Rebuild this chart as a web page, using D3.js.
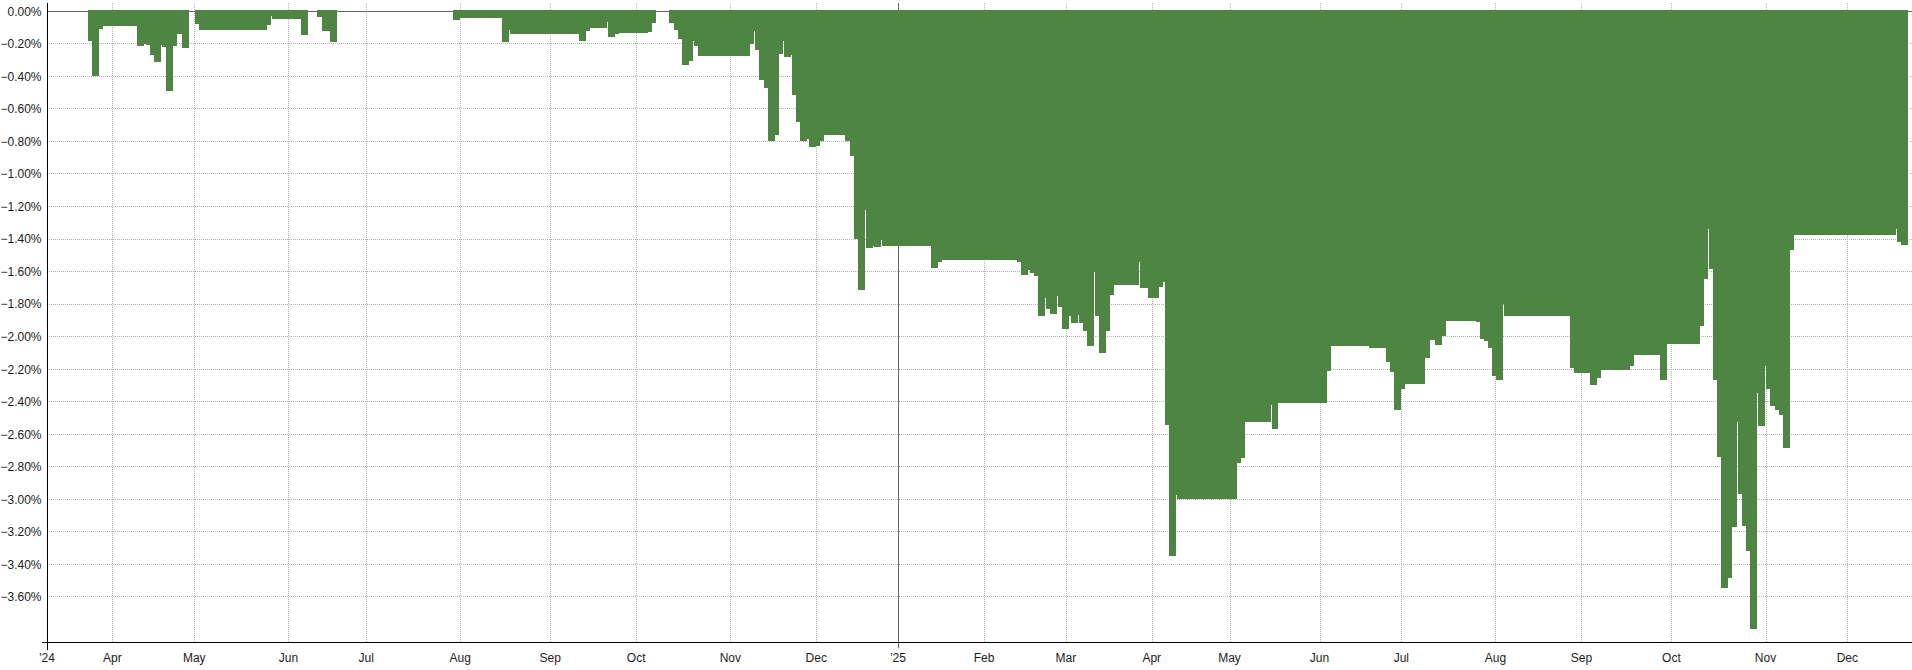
<!DOCTYPE html>
<html>
<head>
<meta charset="utf-8">
<script src="https://cdn.jsdelivr.net/npm/d3@7/dist/d3.min.js"></script>
<style>
  html, body { margin: 0; padding: 0; background: #ffffff; }
  svg { display: block; }
  text { font-family: "Liberation Sans", Arial, sans-serif; font-size: 12px; fill: #1c1c1c; }
</style>
</head>
<body>
<svg id="chart" width="1912" height="670"></svg>
<script>
// ---- DATA ----
// Drawdown (%) as a step series on a trading-session axis (x = sessions since the first session shown).
const stepStart = [
  0, 10.02, 11.00, 12.71, 13.62, 21.88, 23.71, 24.20, 25.18, 26.16, 27.87, 28.11, 29.09, 30.80, 31.78, 33.00,
  34.71, 36.18, 37.15, 53.70, 54.68, 55.07, 62.09, 63.80, 66.00, 67.22, 69.18, 70.89,
  99.24, 100.95, 111.22, 112.93, 113.18, 130.04, 131.75, 132.73, 136.89, 137.13, 138.84, 139.82, 146.91, 147.89, 148.86,
  152.04, 153.26, 154.24, 155.22, 156.93, 157.91, 158.15, 159.13, 171.84, 172.82, 173.06, 174.04, 175.26, 176.24,
  177.95, 178.93, 179.91, 180.15, 181.86, 182.11, 183.09, 184.06, 185.70, 186.26, 187.97, 188.95, 189.93, 195.06,
  196.28, 197.26, 198.24, 199.95, 200.20, 201.91, 202.15, 203.86, 204.11, 216.08, 217.79, 218.77, 237.11, 238.08,
  239.80, 240.28, 241.26, 242.24, 243.95, 244.20, 245.18, 246.88, 247.13, 248.11, 249.82, 250.31, 252.02, 252.26,
  253.24, 254.22, 255.93, 256.17, 257.15, 258.86, 259.84, 260.82, 267.00, 267.17, 268.96, 269.13, 271.82, 272.79,
  273.28, 274.26, 275.97, 276.22, 290.88, 291.86, 292.84, 299.02, 299.27, 300.90, 312.88, 313.86, 323.15, 327.30,
  328.28, 329.26, 330.97, 331.95, 336.84, 338.06, 339.11, 339.28, 341.00, 341.97, 349.30, 350.28, 351.26, 352.24,
  353.21, 354.19, 355.90, 356.15, 372.28, 373.26, 377.17, 378.88, 379.86, 386.95, 387.93, 394.28, 396.00, 404.06,
  405.04, 406.01, 406.26, 407.24, 408.21, 409.19, 410.90, 411.88, 413.10, 413.35, 414.32, 415.30, 416.28, 417.99,
  418.24, 419.95, 420.19, 421.17, 422.39, 423.37, 424.35, 426.06, 427.04, 451.97, 452.21, 453.19
];
const drawdown = [
  0, -0.18, -0.40, -0.107, -0.088, -0.211, -0.20, -0.207, -0.267, -0.31, -0.207, -0.217, -0.488, -0.211, -0.141, -0.224,
  0, -0.08, -0.113, -0.082, -0.027, -0.045, -0.144, 0, -0.033, -0.119, -0.187, 0,
  -0.052, -0.039, -0.187, -0.115, -0.138, -0.18, -0.119, -0.10, -0.066, -0.156, -0.138, -0.131, -0.125, -0.07, 0,
  -0.07, -0.113, -0.168, -0.328, -0.303, -0.18, -0.211, -0.273, -0.199, -0.119, -0.236, -0.42, -0.469, -0.80,
  -0.758, -0.26, -0.18, -0.279, -0.27, -0.512, -0.678, -0.795, -0.785, -0.832, -0.826, -0.795, -0.76, -0.795,
  -0.887, -1.397, -1.716, -1.221, -1.458, -1.44, -1.446, -1.403, -1.44, -1.575, -1.544, -1.526, -1.544, -1.618,
  -1.588, -1.606, -1.63, -1.87, -1.76, -1.833, -1.858, -1.753, -1.815, -1.95, -1.87, -1.919, -1.864, -1.919,
  -1.968, -2.06, -1.60, -1.876, -2.103, -1.968, -1.741, -1.68, -1.54, -1.70, -1.663, -1.761, -1.694, -1.663,
  -2.546, -3.35, -2.972, -2.996, -2.775, -2.744, -2.523, -2.419, -2.566, -2.407, -2.21, -2.056, -2.068, -2.155,
  -2.216, -2.45, -2.32, -2.29, -2.13, -2.019, -1.97, -2.05, -1.995, -1.903, -1.909, -2.013, -2.025, -2.068,
  -2.24, -2.264, -1.798, -1.872, -2.19, -2.222, -2.296, -2.253, -2.204, -2.18, -2.11, -2.265, -2.043, -1.933,
  -1.645, -1.338, -1.583, -2.265, -2.738, -3.543, -3.482, -3.168, -2.523, -2.965, -3.162, -3.316, -3.795, -2.345,
  -2.548, -2.18, -2.32, -2.425, -2.45, -2.48, -2.684, -1.467, -1.374, -1.338, -1.417, -1.436
];
const lastSession = 454.9;

const monthTicks  = [0, 16, 36, 59, 78, 101, 123, 144, 167, 188, 208, 229, 249, 270, 289, 311, 331, 354, 375, 397, 420, 440];
const monthLabels = ["'24", "Apr", "May", "Jun", "Jul", "Aug", "Sep", "Oct", "Nov", "Dec",
                     "'25", "Feb", "Mar", "Apr", "May", "Jun", "Jul", "Aug", "Sep", "Oct", "Nov", "Dec"];
const yearTicks = [0, 208];
const yTicks = [0, -0.2, -0.4, -0.6, -0.8, -1.0, -1.2, -1.4, -1.6, -1.8, -2.0, -2.2, -2.4, -2.6, -2.8, -3.0, -3.2, -3.4, -3.6];
const yDomain = [0.051, -3.877];
const xDomain = [0, 455.8];

// ---- LAYOUT ----
const W = 1912, H = 670;
const plot = { left: 47, right: 1912, top: 3, bottom: 642 };
const green = "#4e8542";

const svg = d3.select("#chart");
const x = d3.scaleLinear().domain(xDomain).range([plot.left, plot.right]);
const y = d3.scaleLinear().domain(yDomain).range([plot.top, plot.bottom]);
const crisp = v => Math.round(v) + 0.5;
const crispY = v => Math.floor(v) + 0.5;

// horizontal dotted gridlines
svg.append("g").selectAll("line").data(yTicks.filter(d => d !== 0)).join("line")
  .attr("x1", plot.left).attr("x2", plot.right)
  .attr("y1", d => crispY(y(d))).attr("y2", d => crispY(y(d)))
  .attr("stroke", "#b4b4b4").attr("stroke-width", 1).attr("stroke-dasharray", "1,1");

// vertical dotted gridlines (month ticks, not year ticks)
svg.append("g").selectAll("line").data(monthTicks.filter(t => !yearTicks.includes(t))).join("line")
  .attr("x1", d => crisp(x(d))).attr("x2", d => crisp(x(d)))
  .attr("y1", plot.top).attr("y2", plot.bottom)
  .attr("stroke", "#b4b4b4").attr("stroke-width", 1).attr("stroke-dasharray", "1,1");

// year separator lines
svg.append("g").selectAll("line").data(yearTicks.filter(t => t !== 0)).join("line")
  .attr("x1", d => crisp(x(d))).attr("x2", d => crisp(x(d)))
  .attr("y1", plot.top).attr("y2", plot.bottom + 6)
  .attr("stroke", "#666666").attr("stroke-width", 1);

// zero line
svg.append("line")
  .attr("x1", plot.left).attr("x2", plot.right)
  .attr("y1", crispY(y(0))).attr("y2", crispY(y(0)))
  .attr("stroke", "#666666").attr("stroke-width", 1);

// drawdown step area
const pts = stepStart.map((t, i) => [t, drawdown[i]]);
pts.push([lastSession, drawdown[drawdown.length - 1]]);
const area = d3.area()
  .curve(d3.curveStepAfter)
  .x(d => x(d[0]))
  .y0(y(0) - 1)
  .y1(d => d[1] === 0 ? y(0) - 1 : y(d[1]));
svg.append("path")
  .attr("d", area(pts))
  .attr("fill", green)
  .attr("shape-rendering", "crispEdges");

// axes lines
svg.append("line")
  .attr("x1", plot.left - 5).attr("x2", plot.right)
  .attr("y1", plot.bottom + 0.5).attr("y2", plot.bottom + 0.5)
  .attr("stroke", "#000").attr("stroke-width", 1);
svg.append("line")
  .attr("x1", plot.left + 0.5).attr("x2", plot.left + 0.5)
  .attr("y1", plot.top).attr("y2", plot.bottom + 8)
  .attr("stroke", "#000").attr("stroke-width", 1);

// y labels
svg.append("g").selectAll("text").data(yTicks).join("text")
  .attr("x", plot.left - 5.5)
  .attr("y", d => y(d))
  .attr("dy", "0.36em")
  .attr("text-anchor", "end")
  .text(d => d3.format(".2f")(d === 0 ? 0 : d) + "%");

// x labels
svg.append("g").selectAll("text").data(monthTicks).join("text")
  .attr("x", d => x(d))
  .attr("y", 662)
  .attr("text-anchor", "middle")
  .text((d, i) => monthLabels[i]);
</script>
</body>
</html>
